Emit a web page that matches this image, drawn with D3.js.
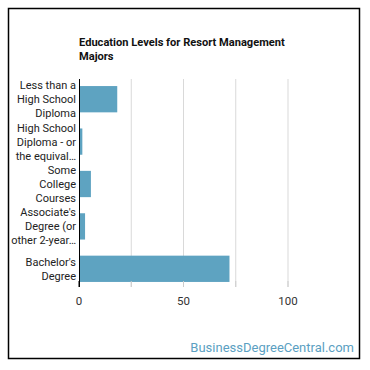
<!DOCTYPE html>
<html><head><meta charset="utf-8">
<script src="https://cdn.jsdelivr.net/npm/d3@7"></script>
<style>body{margin:0;background:#fff;}svg{display:block;font-family:Roboto,"Noto Sans",sans-serif;}</style>
</head><body>
<svg id="c" width="370" height="370"></svg>
<script>
const categories = [
  ["Less than a","High School","Diploma"],
  ["High School","Diploma - or","the equival\u2026"],
  ["Some","College","Courses"],
  ["Associate's","Degree (or","other 2-year\u2026"],
  ["Bachelor's","Degree"]
];
const values = [18.3, 1.6, 5.7, 2.9, 72];
const xTicks = [0, 50, 100];
const gridTicks = [0, 25, 50, 75, 100];
const title = ["Education Levels for Resort Management", "Majors"];

const svg = d3.select("#c");
svg.append("rect").attr("x",8.5).attr("y",8.5).attr("width",351).attr("height",350)
  .attr("fill","#fff").attr("stroke","#000").attr("stroke-width",1.5);

const x = d3.scaleLinear().domain([0,100]).range([79,288]);
const y = d3.scaleBand().domain(d3.range(categories.length)).range([78,290]).paddingInner(0.38).paddingOuter(0.19);

// title
svg.append("text").attr("x",79).attr("y",46).attr("font-size",11.1).attr("font-weight","bold").attr("fill","#111")
  .selectAll("tspan").data(title).join("tspan").attr("x",79).attr("dy",(d,i)=>i?13.5:0).text(d=>d);

// grid
svg.append("g").selectAll("line").data(gridTicks.filter(d=>d>0)).join("line")
  .attr("x1",d=>x(d)).attr("x2",d=>x(d)).attr("y1",79).attr("y2",287)
  .attr("stroke","#d9d9d9").attr("stroke-width",1);

// bars
svg.append("g").selectAll("rect").data(values).join("rect")
  .attr("x",x(0)).attr("y",(d,i)=>y(i)).attr("width",d=>x(d)-x(0)).attr("height",y.bandwidth())
  .attr("fill","#5ea3c1");

// x axis ticks
svg.append("g").selectAll("line").data(gridTicks).join("line")
  .attr("x1",d=>x(d)).attr("x2",d=>x(d)).attr("y1",281).attr("y2",287)
  .attr("stroke",(d)=>d===0?"#000":"#ccc");
svg.append("g").selectAll("text").data(xTicks).join("text")
  .attr("x",d=>x(d)).attr("y",305).attr("text-anchor","middle").attr("font-size",11.5).attr("fill","#333")
  .text(d=>d);

// y axis line
svg.append("line").attr("x1",x(0)+0.5).attr("x2",x(0)+0.5).attr("y1",79).attr("y2",287).attr("stroke","#000");

// y labels
const lab = svg.append("g").selectAll("text").data(categories).join("text")
  .attr("text-anchor","end").attr("font-size",11).attr("fill","#222");
lab.each(function(lines,i){
  const cy = y(i)+y.bandwidth()/2;
  const lh = 14;
  const start = cy - (lines.length-1)*lh/2 + 4;
  d3.select(this).selectAll("tspan").data(lines).join("tspan")
    .attr("x",76).attr("y",(d,j)=>start+j*lh).text(d=>d);
});

// watermark
svg.append("text").attr("x",354).attr("y",352).attr("text-anchor","end").attr("font-size",13)
  .attr("fill","#5b9fc2").text("BusinessDegreeCentral.com");
</script>
</body></html>
